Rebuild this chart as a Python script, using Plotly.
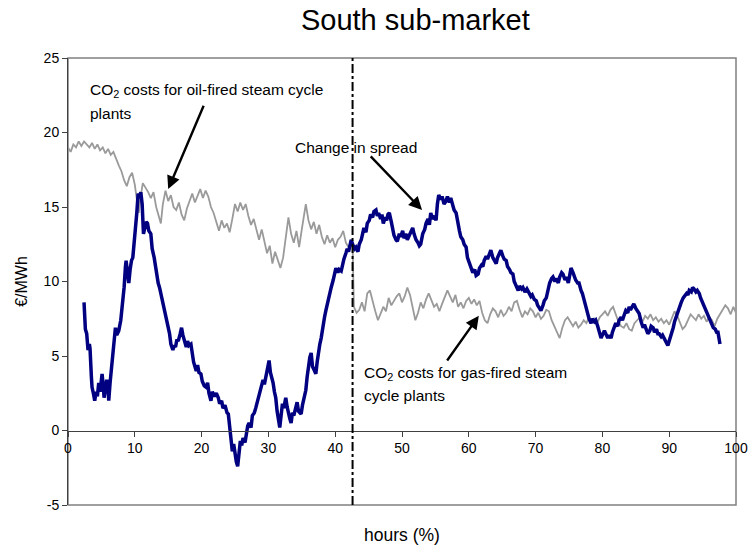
import plotly.graph_objects as go

# CO2 cost curve (grey): oil-fired part up to the split, gas-fired after it
oil_hours = [0.0, 0.4, 0.8, 1.2, 1.6, 2.0, 2.4, 2.8, 3.2, 3.6, 4.0, 4.4, 4.8, 5.2, 5.6, 6.0,
             6.4, 6.8, 7.2, 7.6, 8.0, 8.4, 8.8, 9.2, 9.6, 10.0, 10.4, 10.6, 10.8, 11.2, 11.6,
             12.0, 12.4, 12.8, 13.2, 13.6, 13.9, 14.2, 14.6, 15.0, 15.4, 15.8, 16.2, 16.6,
             17.0, 17.4, 17.8, 18.2, 18.6, 19.0, 19.4, 19.8, 20.2, 20.6, 21.0, 21.4, 21.8,
             22.2, 22.6, 23.0, 23.4, 23.8, 24.2, 24.6, 25.0, 25.4, 25.8, 26.2, 26.6, 27.0,
             27.4, 27.8, 28.2, 28.6, 29.0, 29.4, 29.8, 30.2, 30.6, 31.0, 31.4, 31.8, 32.2,
             32.6, 33.0, 33.4, 33.8, 34.2, 34.6, 35.0, 35.4, 35.6, 36.0, 36.4, 36.8, 37.2,
             37.6, 38.0, 38.4, 38.8, 39.2, 39.6, 40.0, 40.4, 40.8, 41.2, 41.6, 42.0, 42.4, 42.6]
oil_cost = [19.0, 18.7, 19.2, 19.0, 19.4, 19.1, 19.4, 19.2, 19.0, 19.3, 18.9, 19.2, 18.8, 19.0, 18.6, 18.9,
            18.5, 18.7, 18.2, 17.8, 17.4, 16.8, 16.4, 17.0, 17.3, 16.5, 15.2, 14.6, 15.5, 16.6, 16.3,
            16.0, 15.6, 16.0, 15.0, 14.4, 13.9, 15.2, 16.1, 15.4, 15.8, 15.0, 14.8, 15.3,
            14.5, 14.1, 14.9, 15.4, 15.9, 15.3, 15.8, 16.2, 15.6, 16.1, 15.7, 15.0, 14.6,
            13.9, 13.4, 14.1, 13.6, 13.9, 13.3, 14.2, 15.2, 14.7, 15.3, 14.8, 15.2, 14.4,
            13.8, 14.2, 13.4, 12.8, 13.5, 12.6, 11.9, 12.4, 11.2, 12.0, 11.5, 10.9, 11.6,
            12.9, 14.3, 13.2, 12.6, 13.4, 12.3, 13.5, 14.6, 15.2, 14.1, 13.5, 14.0, 13.2,
            13.8, 13.0, 12.5, 13.1, 12.6, 12.9, 12.3, 12.8, 13.0, 13.4, 12.6, 12.3, 12.7, 12.5]

gas_hours = [42.8, 43.2, 43.6, 44.0, 44.4, 44.8, 45.2, 45.6, 46.0, 46.4, 46.8, 47.2, 47.6, 48.0,
             48.4, 48.8, 49.2, 49.6, 50.0, 50.4, 50.8, 51.2, 51.6, 52.0, 52.4, 52.8, 53.2, 53.6,
             54.0, 54.4, 54.8, 55.2, 55.6, 56.0, 56.4, 56.8, 57.2, 57.6, 58.0, 58.4, 58.8, 59.2,
             59.6, 60.0, 60.4, 60.8, 61.2, 61.6, 62.0, 62.4, 62.8, 63.2, 63.6, 64.0, 64.4, 64.8,
             65.2, 65.6, 66.0, 66.4, 66.8, 67.2, 67.6, 68.0, 68.4, 68.8, 69.2, 69.6, 70.0, 70.4,
             70.8, 71.2, 71.6, 72.0, 72.4, 72.8, 73.2, 73.6, 74.0, 74.4, 74.8, 75.2, 75.6, 76.0,
             76.4, 76.8, 77.2, 77.6, 78.0, 78.4, 78.8, 79.2, 79.6, 80.0, 80.4, 80.8, 81.2, 81.6,
             82.0, 82.4, 82.8, 83.2, 83.6, 84.0, 84.4, 84.8, 85.2, 85.6, 86.0, 86.4, 86.8, 87.2,
             87.6, 88.0, 88.4, 88.8, 89.2, 89.6, 90.0, 90.4, 90.8, 91.2, 91.6, 92.0, 92.4, 92.8,
             93.2, 93.6, 94.0, 94.4, 94.8, 95.2, 95.6, 96.0, 96.4, 96.8, 97.2, 97.6, 98.0, 98.4,
             98.8, 99.2, 99.6, 100.0]
gas_cost = [8.3, 7.9, 8.1, 8.6, 8.0, 9.2, 9.4, 8.6, 8.0, 7.4, 7.9, 8.3, 8.0, 8.9,
            8.4, 8.7, 9.0, 9.2, 8.6, 9.0, 9.6, 9.1, 8.3, 7.4, 7.9, 8.6, 8.2, 8.8,
            9.2, 8.8, 8.3, 8.5, 8.0, 8.5, 9.0, 9.4, 9.0, 8.6, 9.1, 8.3, 8.6, 8.2,
            8.7, 8.9, 8.5, 8.8, 8.4, 8.7, 7.9, 7.4, 7.2, 7.8, 8.2, 8.0, 7.6, 8.1,
            7.7, 7.9, 8.3, 8.0, 8.6, 8.7, 8.1, 7.6, 8.0, 7.8, 8.2, 8.0, 7.6, 7.9,
            7.5, 7.7, 8.1, 8.0, 7.4, 7.0, 6.6, 6.2, 6.9, 7.4, 7.6, 7.3, 7.0, 7.3,
            6.9, 7.1, 7.4, 7.2, 7.6, 7.3, 7.5, 7.2, 7.6, 7.8, 8.0, 7.7, 8.1, 8.3,
            7.8, 7.3, 7.0, 6.9, 7.2, 6.8, 6.7, 7.2, 7.4, 7.6, 7.3, 7.7, 7.5, 7.8,
            7.4, 7.6, 7.3, 7.5, 7.2, 7.4, 7.1, 7.6, 8.0, 7.7, 7.2, 6.8, 7.0, 7.4,
            7.8, 7.6, 7.4, 7.8, 7.5, 7.7, 7.3, 7.6, 7.4, 7.0, 7.5, 7.8, 8.1, 8.4,
            8.2, 7.8, 8.3, 7.9]

# Change in spread (navy)
spread_hours = [2.4, 2.5, 2.6, 2.8, 3.0, 3.2, 3.3, 3.5, 3.6, 3.8, 4.0, 4.2, 4.4, 4.6, 4.8, 5.0,
                5.1, 5.3, 5.4, 5.6, 5.8, 6.0, 6.1, 6.3, 6.5, 6.7, 6.9, 7.1, 7.3, 7.6, 7.9, 8.2,
                8.4, 8.6, 8.7, 8.9, 9.1, 9.3, 9.5, 9.7, 9.9, 10.1, 10.3, 10.5, 10.7, 10.9, 11.1,
                11.3, 11.5, 11.7, 11.9, 12.1, 12.4, 12.6, 12.9, 13.1, 13.3, 13.5, 13.7, 13.9,
                14.1, 14.4, 14.7, 14.9, 15.2, 15.4, 15.7, 15.9, 16.1, 16.3, 16.5, 16.8, 17.0,
                17.2, 17.4, 17.7, 17.9, 18.1, 18.4, 18.6, 18.8, 19.0, 19.2, 19.4, 19.6, 19.9,
                20.1, 20.4, 20.7, 20.9, 21.1, 21.4, 21.6, 21.9, 22.2, 22.5, 22.7, 23.0, 23.2,
                23.5, 23.8, 24.0, 24.2, 24.4, 24.6, 24.8, 25.0, 25.2, 25.4, 25.6, 25.8, 26.0,
                26.2, 26.5, 26.7, 26.9, 27.1, 27.4, 27.6, 27.9, 28.1, 28.4, 28.6, 28.9, 29.2,
                29.4, 29.7, 29.9, 30.1, 30.3, 30.5, 30.7, 30.9, 31.1, 31.3, 31.5, 31.7, 31.9,
                32.1, 32.3, 32.6, 32.8, 33.0, 33.2, 33.4, 33.6, 33.8, 34.1, 34.3, 34.5, 34.7,
                34.9, 35.1, 35.4, 35.6, 35.8, 36.0, 36.2, 36.4, 36.6, 36.8, 37.1, 37.3, 37.5,
                37.7, 37.9, 38.1, 38.4, 38.6, 38.8, 39.0, 39.2, 39.4, 39.7, 39.9, 40.1, 40.4,
                40.6, 40.9, 41.1, 41.3, 41.6, 41.8, 42.0, 42.2, 42.4,
                42.6, 42.9, 43.1, 43.4, 43.6, 43.9, 44.1, 44.3, 44.6, 44.8, 45.1, 45.3, 45.6,
                45.8, 46.1, 46.3, 46.5, 46.8, 47.0, 47.2, 47.5, 47.7, 47.9, 48.1, 48.4, 48.6,
                48.8, 49.1, 49.3, 49.6, 49.8, 50.1, 50.3, 50.6, 50.8, 51.0, 51.3, 51.6, 51.8,
                52.1, 52.4, 52.6, 52.8, 53.1, 53.4, 53.6, 53.9, 54.1, 54.3, 54.6, 54.9, 55.1,
                55.3, 55.5, 55.8, 56.0, 56.3, 56.6, 56.8, 57.1, 57.3, 57.6, 57.8, 58.1, 58.3,
                58.6, 58.8, 59.1, 59.3, 59.6, 59.8, 60.1, 60.3, 60.6, 60.9, 61.1, 61.4, 61.6,
                61.9, 62.1, 62.3, 62.6, 62.8, 63.1, 63.3, 63.6, 63.8, 64.1, 64.3, 64.6, 64.8,
                65.1, 65.3, 65.6, 65.8, 66.1, 66.3, 66.6, 66.8, 67.1, 67.4, 67.6, 67.9, 68.1,
                68.4, 68.7, 69.0, 69.3, 69.5, 69.8, 70.1, 70.3, 70.6, 70.8, 71.1, 71.3, 71.6,
                71.9, 72.1, 72.4, 72.6, 72.9, 73.1, 73.4, 73.6, 73.9, 74.1, 74.4, 74.6, 74.9,
                75.1, 75.3, 75.6, 75.8, 76.0, 76.3, 76.5, 76.8, 77.0, 77.3, 77.5, 77.8, 78.0,
                78.3, 78.5, 78.8, 79.0, 79.3, 79.5, 79.8, 80.0, 80.3, 80.5, 80.8, 81.0, 81.3,
                81.5, 81.8, 82.0, 82.3, 82.5, 82.8, 83.0, 83.3, 83.5, 83.8, 84.0, 84.2, 84.5,
                84.7, 85.0, 85.3, 85.5, 85.8, 86.1, 86.3, 86.6, 86.8, 87.1, 87.3, 87.6, 87.8,
                88.1, 88.3, 88.5, 88.8, 89.0, 89.2, 89.5, 89.8, 90.0, 90.3, 90.6, 90.8, 91.1,
                91.3, 91.6, 91.8, 92.1, 92.3, 92.6, 92.8, 93.0, 93.3, 93.5, 93.7, 94.0, 94.2,
                94.5, 94.7, 95.0, 95.2, 95.5, 95.7, 96.0, 96.2, 96.4, 96.6, 96.9, 97.1, 97.3,
                97.5, 97.6]
spread_value = [8.6, 7.6, 6.8, 6.5, 5.4, 5.8, 5.5, 3.6, 2.9, 2.5, 2.0, 2.6, 2.3, 3.2, 2.6, 3.4,
                3.8, 2.9, 2.2, 2.8, 3.4, 2.7, 2.0, 3.2, 4.2, 4.9, 5.8, 6.9, 6.4, 6.7, 7.4, 8.5,
                9.6, 11.0, 11.4, 10.6, 9.9, 10.8, 11.4, 11.6, 12.5, 13.4, 14.6, 15.9, 15.6, 16.0, 15.2,
                13.2, 13.6, 14.0, 13.9, 13.4, 13.2, 12.2, 11.6, 10.9, 10.4, 9.9, 9.6, 9.2,
                8.8, 8.2, 7.6, 7.2, 6.5, 5.8, 5.4, 5.7, 5.6, 6.1, 6.0, 6.5, 6.9,
                6.4, 6.0, 5.6, 6.0, 5.7, 5.8, 5.1, 4.6, 4.3, 4.0, 4.4, 3.9, 3.8,
                3.3, 3.0, 2.9, 3.2, 2.5, 2.0, 2.6, 2.3, 2.5, 2.2, 1.8, 2.0, 1.5,
                1.7, 1.2, 1.1, 0.2, -0.7, -1.4, -0.9, -1.6, -2.1, -2.4, -1.5, -0.7, -1.0,
                -0.5, -0.8, -0.1, 0.3, 0.5, 0.2, 1.0, 1.2, 1.5, 2.0, 2.4, 2.9, 3.4,
                3.1, 3.8, 4.3, 4.7, 3.9, 3.6, 3.2, 2.6, 2.2, 1.3, 0.6, 0.2, 1.0,
                1.8, 1.5, 2.2, 1.6, 1.1, 0.8, 0.5, 1.2, 1.0, 1.5, 1.9, 1.3, 1.2,
                1.1, 1.7, 2.3, 2.7, 3.6, 4.5, 4.9, 5.2, 4.3, 4.1, 3.8, 4.6, 5.4,
                5.8, 6.2, 6.9, 7.6, 8.05, 8.5, 8.9, 9.4, 9.6, 10.1, 10.4, 10.9, 10.6,
                10.8, 10.7, 11.2, 11.5, 11.9, 12.2, 12.0, 12.4, 12.8,
                12.5, 12.2, 12.3, 12.0, 12.5, 12.8, 13.2, 13.6, 13.3, 13.9, 14.1, 14.5, 14.3,
                14.7, 14.8, 14.4, 14.6, 14.2, 14.5, 13.9, 14.3, 14.1, 14.5, 14.6, 14.0, 13.5,
                13.1, 12.8, 12.7, 13.2, 13.0, 13.4, 12.9, 13.2, 12.8, 13.0, 13.3, 13.6, 13.2,
                12.8, 12.6, 12.4, 12.5, 13.2, 13.5, 13.9, 14.2, 13.8, 14.6, 14.2, 14.4, 14.1,
                15.2, 15.8, 15.5, 15.7, 15.2, 15.4, 15.7, 15.3, 15.6, 15.2, 14.8, 14.6, 14.0,
                13.4, 13.0, 12.8, 12.5, 12.3, 11.6, 11.2, 10.9, 10.6, 10.8, 10.4, 10.5, 10.9,
                11.1, 11.0, 11.4, 11.7, 11.5, 11.9, 12.1, 11.6, 11.4, 11.2, 11.6, 11.9, 12.1,
                11.7, 11.5, 11.4, 11.0, 10.8, 10.6, 10.5, 10.0, 9.7, 9.4, 9.7, 9.5, 9.6,
                9.3, 9.5, 9.2, 9.0, 9.1, 8.8, 8.7, 8.4, 8.2, 8.05, 8.4, 8.7, 8.9,
                9.5, 9.9, 10.2, 10.3, 10.0, 10.2, 9.9, 10.3, 10.6, 10.5, 10.1, 10.3, 9.9,
                10.5, 10.9, 10.6, 10.3, 10.1, 9.9, 9.9, 9.4, 9.2, 8.7, 8.3, 7.9, 7.5,
                7.2, 7.5, 7.3, 7.4, 7.0, 6.6, 6.2, 6.4, 6.7, 6.5, 6.2, 6.4, 6.2,
                6.6, 6.9, 7.2, 7.0, 7.4, 7.6, 7.4, 7.8, 8.05, 7.9, 8.3, 8.1, 8.4,
                8.5, 8.2, 8.0, 7.85, 7.3, 6.9, 7.1, 6.7, 6.5, 6.7, 7.0, 6.9, 6.6,
                6.8, 6.5, 6.5, 6.3, 6.4, 6.2, 6.0, 5.7, 6.0, 6.4, 6.9, 7.3, 7.7,
                8.05, 8.3, 8.6, 8.9, 9.0, 9.2, 9.1, 9.4, 9.3, 9.6, 9.5, 9.3, 9.4,
                9.2, 8.9, 8.6, 8.3, 8.0, 7.8, 7.6, 7.3, 7.1, 6.9, 6.8, 6.6, 6.6,
                6.2, 5.8]

split_hour = 42.6

# y tick labels as printed (plain hyphen for the minus)
y_ticks = [-5, 0, 5, 10, 15, 20, 25]
y_tick_text = ['-5', '0', '5', '10', '15', '20', '25']

assert len(oil_hours) == len(oil_cost)
assert len(gas_hours) == len(gas_cost)
assert len(spread_hours) == len(spread_value)

FONT = "Liberation Sans, Arial, sans-serif"

fig = go.Figure()

fig.add_trace(go.Scatter(
    x=oil_hours + gas_hours,
    y=oil_cost + gas_cost,
    mode='lines',
    line=dict(color='#9a9a9a', width=1.8),
    showlegend=False,
    hoverinfo='skip'
))
fig.add_trace(go.Scatter(
    x=spread_hours,
    y=spread_value,
    mode='lines',
    line=dict(color='#000080', width=3.5),
    showlegend=False,
    hoverinfo='skip'
))

# split between oil- and gas-fired marginal plants
fig.add_shape(type='line', xref='x', yref='y', x0=split_hour, x1=split_hour, y0=-5, y1=25,
              line=dict(color='black', width=2, dash='dashdot'))
# plot frame
fig.add_shape(type='rect', xref='paper', yref='paper', x0=0, x1=1, y0=0, y1=1,
              line=dict(color='#808080', width=1.5), layer='below')

text_font = dict(family=FONT, size=15.5, color='black')
labels = [
    (3.0, 22.8, "CO<sub>2</sub> costs for oil-fired steam cycle"),
    (3.0, 21.3, "plants"),
    (33.7, 19.0, "Change in spread"),
    (44.0, 3.8, "CO<sub>2</sub> costs for gas-fired steam"),
    (44.0, 2.35, "cycle plants"),
]
for lx, ly, txt in labels:
    fig.add_annotation(x=lx, y=ly, text=txt, showarrow=False, xanchor='left', yanchor='middle',
                       font=text_font, bgcolor='rgba(0,0,0,0)')

arrows = [
    ((20.4, 21.9), (15.0, 16.2)),
    ((45.1, 18.5), (53.0, 14.8)),
    ((56.6, 4.6), (61.5, 7.7)),
]
for (tx, ty), (hx, hy) in arrows:
    fig.add_annotation(x=hx, y=hy, ax=tx, ay=ty, axref='x', ayref='y', xref='x', yref='y',
                       text='', showarrow=True, arrowhead=2, arrowsize=1.1, arrowwidth=2.4,
                       arrowcolor='black')

fig.add_annotation(x=0.5, y=-30 / 447, xref='paper', yref='paper', text="hours (%)",
                   showarrow=False, yanchor='middle', font=dict(family=FONT, size=17.5, color='black'))

fig.update_layout(
    width=751,
    height=550,
    margin=dict(l=68, r=15, t=58, b=45),
    paper_bgcolor='white',
    plot_bgcolor='white',
    font=dict(family=FONT, size=14, color='black'),
    title=dict(text="South sub-market", x=0.52, xref='paper', xanchor='center',
               y=1 - 20 / 550, yref='container', yanchor='middle',
               font=dict(family=FONT, size=29, color='black')),
    xaxis=dict(range=[0, 100], dtick=10, tick0=0, anchor='free', position=1 / 6,
               showline=True, linecolor='#404040', linewidth=1, ticks='outside', ticklen=5,
               tickcolor='#404040', showgrid=False, zeroline=False, automargin=False,
               tickfont=dict(family=FONT, size=14)),
    yaxis=dict(range=[-5, 25], tickvals=y_ticks, ticktext=y_tick_text, showline=True,
               linecolor='#404040', linewidth=1,
               ticks='outside', ticklen=5, tickcolor='#404040', showgrid=False, zeroline=False,
               automargin=False,
               title=dict(text="€/MWh", font=dict(family=FONT, size=16), standoff=12),
               tickfont=dict(family=FONT, size=14)),
)

fig.write_html("out.html", config={'displayModeBar': False},
               post_script="document.body.style.margin='0';")
